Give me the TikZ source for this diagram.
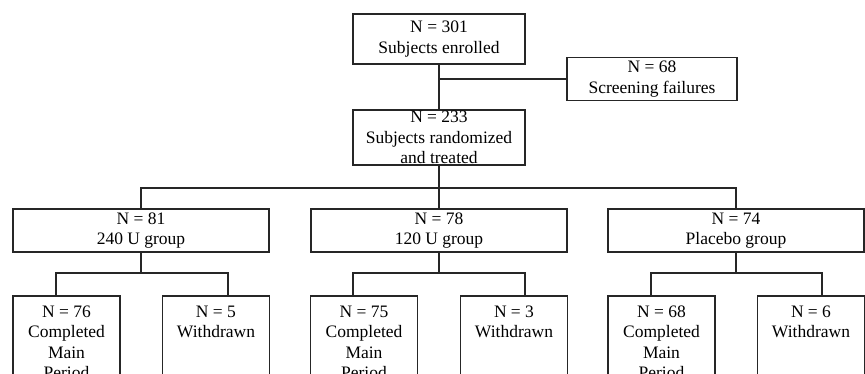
\documentclass[tikz,border=0pt]{standalone}
\usepackage{fontspec}
\setmainfont{Liberation Serif}
\tikzset{
  box/.style={draw=black!85, line width=1.5pt, inner sep=0pt, align=center,
    font=\fontsize{17.5}{20.5}\selectfont},
  subbox/.style={box, anchor=north, minimum width=107pt, minimum height=120pt, inner ysep=5pt},
  conn/.style={draw=black!85, line width=1.5pt},
}
\newcommand{\toptext}[1]{\parbox[t][100pt][t]{104pt}{\centering #1}}
\begin{document}
\begin{tikzpicture}[x=1pt,y=-1pt]
\useasboundingbox (0,0) rectangle (865,374);
\clip (0,0) rectangle (865,374);
\node[box, minimum width=172pt, minimum height=50pt] (top) at (439,39) {N = 301\\Subjects enrolled};
\node[box, minimum width=170pt, minimum height=43pt] (screen) at (652,79) {N = 68\\Screening failures};
\node[box, minimum width=172pt, minimum height=55pt] (rand) at (439,137.5) {N = 233\\Subjects randomized\\and treated};
\node[box, minimum width=256pt, minimum height=43pt] (g1) at (141,230.5) {N = 81\\240 U group};
\node[box, minimum width=256pt, minimum height=43pt] (g2) at (439,230.5) {N = 78\\120 U group};
\node[box, minimum width=256pt, minimum height=43pt] (g3) at (736,230.5) {N = 74\\Placebo group};
\node[subbox] (s1) at (66.5,295) {\toptext{N = 76\\Completed\\Main\\Period}};
\node[subbox] (s2) at (216,295) {\toptext{N = 5\\Withdrawn}};
\node[subbox] (s3) at (364,295) {\toptext{N = 75\\Completed\\Main\\Period}};
\node[subbox] (s4) at (514,295) {\toptext{N = 3\\Withdrawn}};
\node[subbox] (s5) at (661.5,295) {\toptext{N = 68\\Completed\\Main\\Period}};
\node[subbox] (s6) at (811,295) {\toptext{N = 6\\Withdrawn}};
\coordinate (jm) at (439,188);
\coordinate (j1) at (141,273);
\coordinate (j2) at (439,273);
\coordinate (j3) at (736,273);
\draw[conn] (top) -- (rand);
\draw[conn] (screen.west) -- (screen.west -| top.south);
\draw[conn] (rand) -- (g2);
\draw[conn] (g1.north) |- (jm) -| (g3.north);
\draw[conn] (g1) -- (j1);
\draw[conn] (g2) -- (j2);
\draw[conn] (g3) -- (j3);
\draw[conn] ([xshift=-10.5pt]s1.north) |- (j1) -| ([xshift=12pt]s2.north);
\draw[conn] ([xshift=-11pt]s3.north) |- (j2) -| ([xshift=11pt]s4.north);
\draw[conn] ([xshift=-10.5pt]s5.north) |- (j3) -| ([xshift=11pt]s6.north);
\end{tikzpicture}
\end{document}
